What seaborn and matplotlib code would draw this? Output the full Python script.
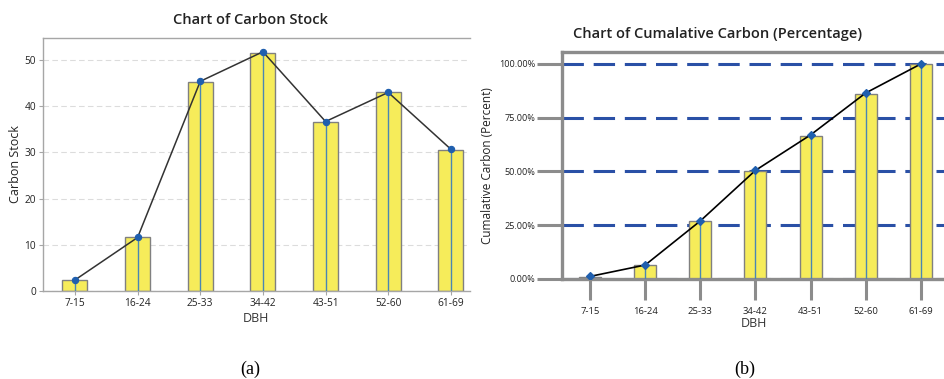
import matplotlib
matplotlib.use("Agg")
import matplotlib.pyplot as plt
import seaborn as sns
import pandas as pd

dbh = ["7-15", "16-24", "25-33", "34-42", "43-51", "52-60", "61-69"]
carbon_stock = [2.3, 11.6, 45.3, 51.6, 36.7, 43.1, 30.5]
carbon_line = [2.4, 11.6, 45.4, 51.8, 36.7, 43.0, 30.7]
cum_pct = [1.0, 6.3, 26.8, 50.1, 66.7, 86.2, 100.0]
cum_line = [1.2, 6.5, 27.0, 50.5, 67.0, 86.5, 100.0]
pct_ticks = [0, 25, 50, 75, 100]
pct_labels = ["0.00%", "25.00%", "50.00%", "75.00%", "100.00%"]

sns.set_theme(style="white")
plt.rcParams["font.family"] = ["Open Sans", "DejaVu Sans"]

YELLOW = "#f6ec5a"
EDGE = "#808080"
BLUE = "#1f5fae"
GRID_BLUE = "#2a50a6"


def color_markers(ax):
    for ln in ax.lines:
        if ln.get_marker() not in (None, "None", "", " "):
            ln.set_markerfacecolor(BLUE)
            ln.set_markeredgecolor(BLUE)


fig = plt.figure(figsize=(9.45, 3.79), dpi=100)
ax1 = fig.add_axes([0.0455, 0.232, 0.4515, 0.668])
ax2 = fig.add_axes([0.5947, 0.2639, 0.4053, 0.599])

# ---------- (a) ----------
df1 = pd.DataFrame({"DBH": dbh, "Carbon Stock": carbon_stock})
sns.barplot(data=df1, x="DBH", y="Carbon Stock", ax=ax1, color=YELLOW,
            saturation=1, width=0.4, edgecolor=EDGE, linewidth=1, zorder=2)
for p in ax1.patches:
    cx = p.get_x() + p.get_width() / 2
    ax1.vlines(cx, 0, p.get_height(), color="#4a86b4", lw=1, zorder=3)
sns.pointplot(x=dbh, y=carbon_line, ax=ax1, color="#333333", markers="o",
              linewidth=1.1, markersize=4.5, zorder=4)
color_markers(ax1)
ax1.set_ylim(0, 54.8)
ax1.set_xlim(-0.51, 6.3)
ax1.set_yticks([0, 10, 20, 30, 40, 50])
ax1.yaxis.grid(True, color="#dcdcdc", linestyle=(0, (5, 3)), lw=0.8)
ax1.set_axisbelow(True)
for s in ["left", "top", "bottom"]:
    ax1.spines[s].set_color("#a6a6a6")
    ax1.spines[s].set_linewidth(1)
ax1.spines["right"].set_visible(False)
ax1.tick_params(axis="both", which="major", length=3, width=0.8, color="#a6a6a6",
                labelsize=7.3, labelcolor="#222222", pad=2, bottom=True, left=True)
ax1.set_xlabel("DBH", fontsize=9, color="#333333", labelpad=2)
ax1.set_ylabel("Carbon Stock", fontsize=9, color="#222222", labelpad=2)
fig.text(250 / 945, 1 - 20 / 379, "Chart of Carbon Stock", fontsize=10.5,
         fontweight="semibold", color="#222222", ha="center", va="center")

# ---------- (b) ----------
df2 = pd.DataFrame({"DBH": dbh, "Cum": cum_pct})
sns.barplot(data=df2, x="DBH", y="Cum", ax=ax2, color=YELLOW,
            saturation=1, width=0.4, edgecolor=EDGE, linewidth=1, zorder=2)
for p in ax2.patches:
    cx = p.get_x() + p.get_width() / 2
    ax2.vlines(cx, 0, p.get_height(), color="#4a86b4", lw=1, zorder=3)
sns.pointplot(x=dbh, y=cum_line, ax=ax2, color="black", markers="D",
              linewidth=1.2, markersize=4.2, zorder=4)
color_markers(ax2)
ax2.set_ylim(0, 105.6)
ax2.set_xlim(-0.51, 6.44)
ax2.set_yticks(pct_ticks)
ax2.set_yticklabels(pct_labels)
ax2.yaxis.grid(True, color=GRID_BLUE, linestyle=(0, (7, 3.2)), lw=2.2)
ax2.set_axisbelow(True)
for s in ["left", "top", "bottom"]:
    ax2.spines[s].set_color("#8c8c8c")
    ax2.spines[s].set_linewidth(2.4)
ax2.spines["right"].set_visible(False)
ax2.tick_params(axis="y", length=18, width=2.2, color="#8c8c8c", labelsize=6.6,
                labelcolor="#222222", pad=1, left=True)
ax2.tick_params(axis="x", length=15, width=2.2, color="#8c8c8c", labelsize=6.8,
                labelcolor="#222222", pad=5, bottom=True)
ax2.set_xlabel("DBH", fontsize=9, color="#333333", labelpad=1)
ax2.set_ylabel("Cumalative Carbon (Percent)", fontsize=8.5, color="#222222",
               labelpad=4)
fig.text(718 / 945, 1 - 34 / 379, "Chart of Cumalative Carbon (Percentage)",
         fontsize=10.5, fontweight="semibold", color="#222222",
         ha="center", va="center")

fig.text(0.2646, 0.026, "(a)", fontsize=13, family="Liberation Serif",
         ha="center", va="center", color="black")
fig.text(0.788, 0.026, "(b)", fontsize=13, family="Liberation Serif",
         ha="center", va="center", color="black")

fig.savefig("out.png", dpi=100)
